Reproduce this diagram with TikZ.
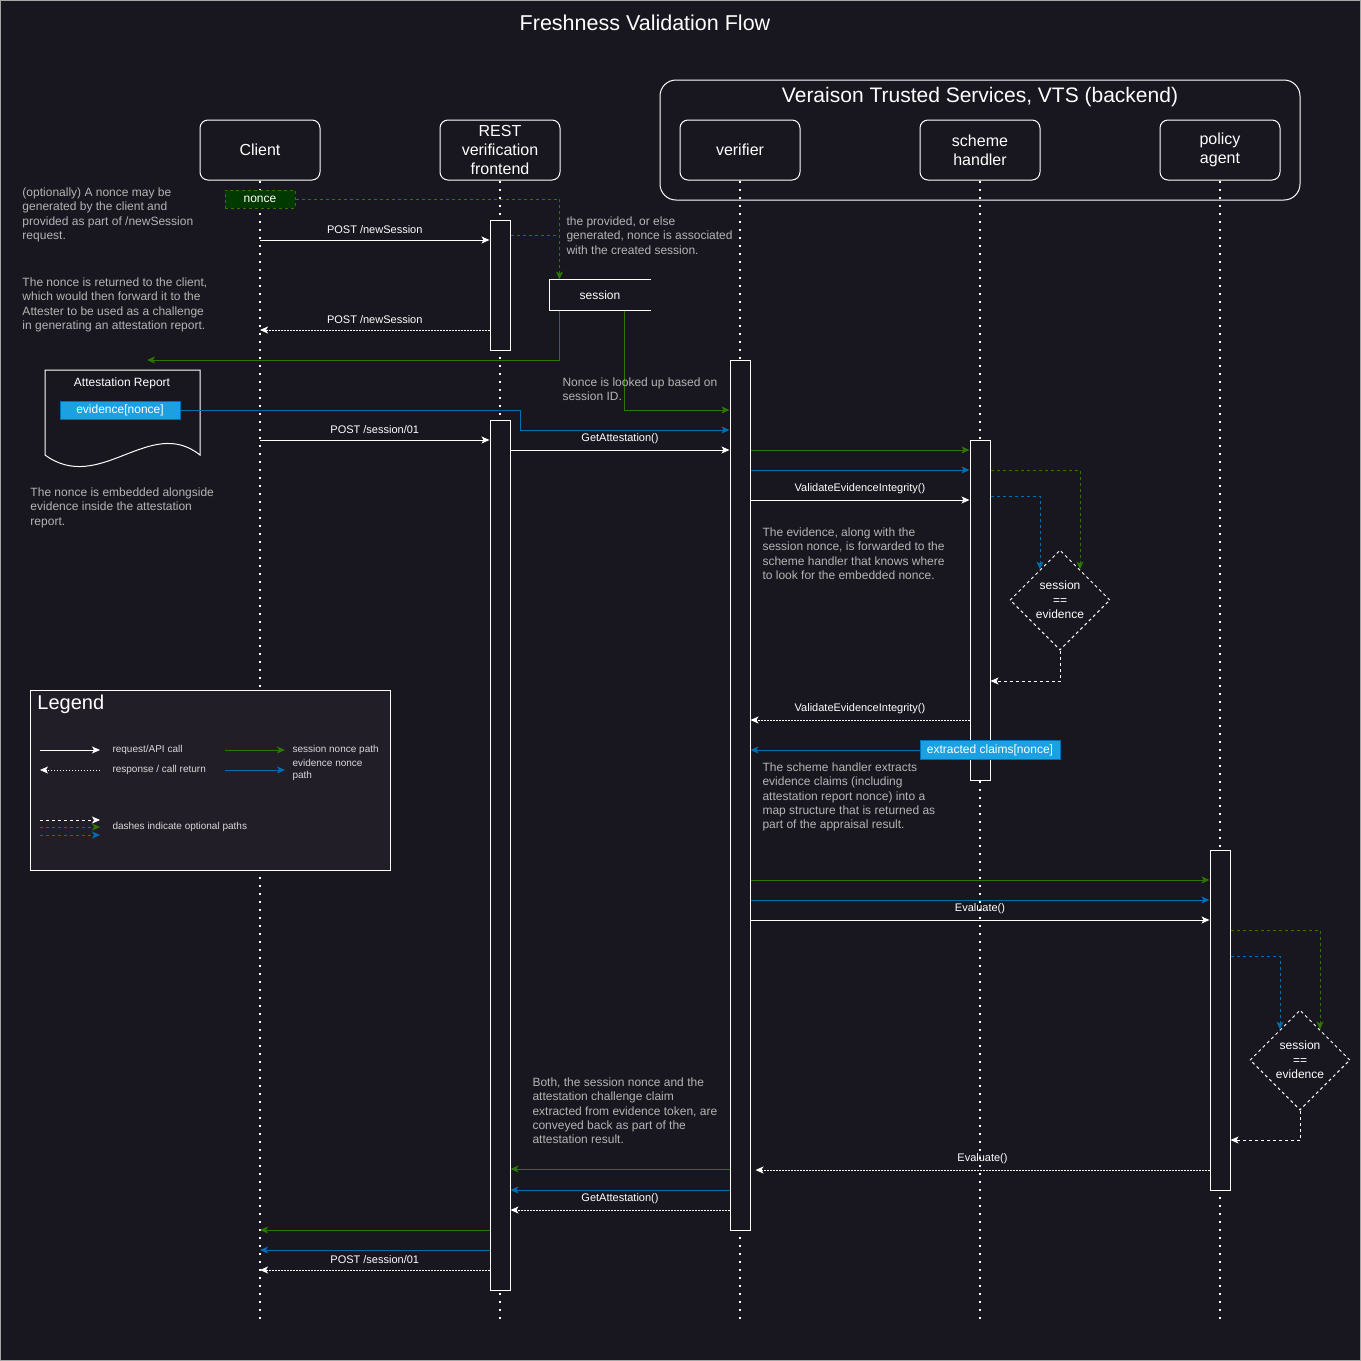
\documentclass[tikz,border=0pt]{standalone}
\usepackage{fontspec}
\setmainfont{Liberation Sans}
\usetikzlibrary{arrows.meta,shapes.geometric,positioning,calc}

\definecolor{bgcol}{HTML}{18161E}
\definecolor{legendcol}{HTML}{211E28}
\definecolor{sessgreen}{HTML}{2D7600}
\definecolor{evblue}{HTML}{006EAF}
\definecolor{evfill}{HTML}{1BA1E2}
\definecolor{noncefill}{HTML}{003A00}
\definecolor{notegrey}{HTML}{B5B5B5}

\tikzset{
    actor/.style={draw=white, fill=bgcol, rounded corners=8pt, minimum width=120pt,
        minimum height=60pt, inner sep=0pt, align=center, text=white,
        font=\fontsize{16}{19}\selectfont},
    lifeline/.style={draw=white, line width=2pt, dash pattern=on 2pt off 6pt},
    activation/.style={draw=white, fill=bgcol, minimum width=20pt, inner sep=0pt, anchor=north},
    call/.style={draw=white, ->},
    callreturn/.style={draw=white, dash pattern=on 1.5pt off 1.5pt, ->},
    sessionpath/.style={draw=sessgreen, ->},
    evidencepath/.style={draw=evblue, ->},
    optional/.style={dash pattern=on 3pt off 3pt},
    msg/.style={text=white, font=\fontsize{11}{13}\selectfont, above=4.5pt, inner sep=1pt},
    note/.style={text=notegrey, font=\fontsize{12}{14.4}\selectfont, align=left,
        anchor=north west, inner sep=0pt},
    check/.style={diamond, draw=white, dashed, minimum size=100pt, inner sep=0pt,
        align=center, text=white, font=\fontsize{12}{14.5}\selectfont},
    tag/.style={fill=evfill, draw=evblue, text=white, font=\fontsize{12}{14}\selectfont,
        minimum height=19pt, inner sep=0pt},
    legendtxt/.style={text=white!85!black, font=\fontsize{10}{12}\selectfont, anchor=west,
        inner sep=0pt, align=left},
}

\begin{document}
\begin{tikzpicture}[x=1pt, y=-1pt, line width=1pt, >={Stealth[length=8pt,width=7pt,inset=2pt]}]
	\useasboundingbox (0,0) rectangle (1361,1361);
	\fill[bgcol] (0,0) rectangle (1361,1361);
	\draw[gray!70] (0.5,0.5) rectangle (1360.5,1360.5);

	\node[text=white, font=\fontsize{21.5}{25}\selectfont] (title) at (645,23) {Freshness Validation Flow};

	% backend group
	\node[draw=white, rounded corners=16pt, minimum width=640pt, minimum height=120pt, inner sep=0pt] (vts) at (980,140) {};
	\node[text=white, font=\fontsize{21}{25}\selectfont] (vtstitle) at (980,97) {Veraison Trusted Services, VTS (backend)};

	% participants
	\node[actor] (client) at (260,150) {Client};
	\node[actor] (rest) at (500,150) {REST\\verification\\frontend};
	\node[actor] (verifier) at (740,150) {verifier};
	\node[actor] (scheme) at (980,150) {scheme\\handler};
	\node[actor] (policy) at (1220,150) {policy\\agent};
	\foreach \p in {client,rest,verifier,scheme,policy}
		\draw[lifeline] (\p.south) -- (\p.south |- 0,1320);

	% activations
	\node[activation, minimum height=130pt] (rest1) at (500,220) {};
	\node[activation, minimum height=870pt] (rest2) at (500,420) {};
	\node[activation, minimum height=870pt] (vf) at (740,360) {};
	\node[activation, minimum height=340pt] (sh) at (980,440) {};
	\node[activation, minimum height=340pt] (pa) at (1220,850) {};

	% nonce and session
	\node[draw=sessgreen, dashed, fill=noncefill, text=white, minimum width=70pt, minimum height=18pt,
		inner sep=0pt, font=\fontsize{12}{14}\selectfont] (nonce) at (260,199) {nonce};
	\node[text=white, minimum width=100pt, minimum height=30pt, inner sep=0pt,
		font=\fontsize{12}{14}\selectfont] (session) at (600,295) {session};
	\draw[white] (session.north east) -- (session.north west) -- (session.south west) -- (session.south east);
	\coordinate (sessionin) at ($(session.north west)+(10,0)$);
	\coordinate (toreport) at (147,360);
	\draw[sessionpath, optional] (nonce.east) -| (sessionin);
	\draw[sessgreen, optional] (rest1.east |- 0,235) -- (sessionin |- 0,235);
	\draw[sessionpath] ($(session.south west)+(10,0)$) |- (toreport);
	\draw[sessionpath] ($(session.south west)+(75,0)$) |- (vf.west |- 0,410);

	% attestation report
	\draw[white, fill=bgcol] (45,370) -- (200,370) -- (200,455) .. controls (150,415) and (100,495) .. (45,455) -- cycle;
	\node[text=white, font=\fontsize{12}{14}\selectfont] (report) at (122,383) {Attestation Report};
	\node[tag, minimum width=120pt, minimum height=18pt] (evid) at (120,410) {evidence[nonce]};
	\draw[evidencepath] (evid.east) -- (520,410) -- (520,430) -- (vf.west |- 0,430);

	% messages
	\draw[call] (client |- 0,240) -- node[msg] {POST /newSession} (rest1.west |- 0,240);
	\draw[callreturn] (rest1.west |- 0,330) -- node[msg] {POST /newSession} (client |- 0,330);
	\draw[call] (client |- 0,440) -- node[msg] {POST /session/01} (rest2.west |- 0,440);
	\draw[call] (rest2.east |- 0,450) -- node[msg] {GetAttestation()} (vf.west |- 0,450);
	\draw[sessionpath] (vf.east |- 0,450) -- (sh.west |- 0,450);
	\draw[evidencepath] (vf.east |- 0,470) -- (sh.west |- 0,470);
	\draw[call] (vf.east |- 0,500) -- node[msg] {ValidateEvidenceIntegrity()} (sh.west |- 0,500);

	\node[check] (check1) at (1060,600) {session\\==\\evidence};
	\draw[sessionpath, optional] (sh.east |- 0,470) -| ($(check1.north)+(20,20)$);
	\draw[evidencepath, optional] (sh.east |- 0,496) -| ($(check1.north)+(-20,20)$);
	\draw[call, optional] (check1.south) |- (sh.east |- 0,681);

	\draw[callreturn] (sh.west |- 0,720) -- node[msg] {ValidateEvidenceIntegrity()} (vf.east |- 0,720);
	\node[tag, minimum width=140pt] (claims) at (990,750) {extracted claims[nonce]};
	\draw[evidencepath] (claims.west) -- (vf.east |- claims.west);

	\draw[sessionpath] (vf.east |- 0,880) -- (pa.west |- 0,880);
	\draw[evidencepath] (vf.east |- 0,900) -- (pa.west |- 0,900);
	\draw[call] (vf.east |- 0,920) -- node[msg] {Evaluate()} (pa.west |- 0,920);

	\node[check] (check2) at (1300,1060) {session\\==\\evidence};
	\draw[sessionpath, optional] (pa.east |- 0,930) -| ($(check2.north)+(20,20)$);
	\draw[evidencepath, optional] (pa.east |- 0,956) -| ($(check2.north)+(-20,20)$);
	\draw[call, optional] (check2.south) |- (pa.east |- 0,1140);

	\draw[callreturn] (pa.west |- 0,1170) -- node[msg] {Evaluate()} ($(vf.east |- 0,1170)+(5,0)$);
	\draw[sessionpath] (vf.west |- 0,1169) -- (rest2.east |- 0,1169);
	\draw[evidencepath] (vf.west |- 0,1190) -- (rest2.east |- 0,1190);
	\draw[callreturn] (vf.west |- 0,1210) -- node[msg] {GetAttestation()} (rest2.east |- 0,1210);
	\draw[sessionpath] (rest2.west |- 0,1230) -- (client |- 0,1230);
	\draw[evidencepath] (rest2.west |- 0,1250) -- (client |- 0,1250);
	\draw[callreturn] (rest2.west |- 0,1270) -- node[msg] {POST /session/01} (client |- 0,1270);

	% notes
	\node[note] (note1) at (22,187) {(optionally) A nonce may be\\generated by the client and\\provided as part of /newSession\\request.};
	\node[note] (note2) at (22,277) {The nonce is returned to the client,\\which would then forward it to the\\Attester to be used as a challenge\\in generating an attestation report.};
	\node[note] (note3) at (30,487) {The nonce is embedded alongside\\evidence inside the attestation\\report.};
	\node[note] (note4) at (566,216) {the provided, or else\\generated, nonce is associated\\with the created session.};
	\node[note] (note5) at (562,377) {Nonce is looked up based on\\session ID.};
	\node[note] (note6) at (762,527) {The evidence, along with the\\session nonce, is forwarded to the\\scheme handler that knows where\\to look for the embedded nonce.};
	\node[note] (note7) at (762,762) {The scheme handler extracts\\evidence claims (including\\attestation report nonce) into a\\map structure that is returned as\\part of the appraisal result.};
	\node[note] (note8) at (532,1077) {Both, the session nonce and the\\attestation challenge claim\\extracted from evidence token, are\\conveyed back as part of the\\attestation result.};

	% legend
	\node[draw=white, fill=legendcol, minimum width=360pt, minimum height=180pt, inner sep=0pt, anchor=north west] (legend) at (30,690) {};
	\node[text=white, font=\fontsize{20}{24}\selectfont, anchor=west, inner sep=0pt] (legendtitle) at (37,704) {Legend};
	\draw[call] (40,750) -- (100,750);
	\node[legendtxt] (lcall) at (112,750) {request/API call};
	\draw[callreturn] (100,770) -- (40,770);
	\node[legendtxt] (lreturn) at (112,770) {response / call return};
	\draw[sessionpath] (225,750) -- (285,750);
	\node[legendtxt] (lsession) at (292,750) {session nonce path};
	\draw[evidencepath] (225,770) -- (285,770);
	\node[legendtxt] (levidence) at (292,770) {evidence nonce\\path};
	\draw[call, optional] (40,820) -- (100,820);
	\draw[sessionpath, optional] (40,827) -- (100,827);
	\draw[evidencepath, optional] (40,835) -- (100,835);
	\node[legendtxt] (loptional) at (112,827) {dashes indicate optional paths};
\end{tikzpicture}
\end{document}
